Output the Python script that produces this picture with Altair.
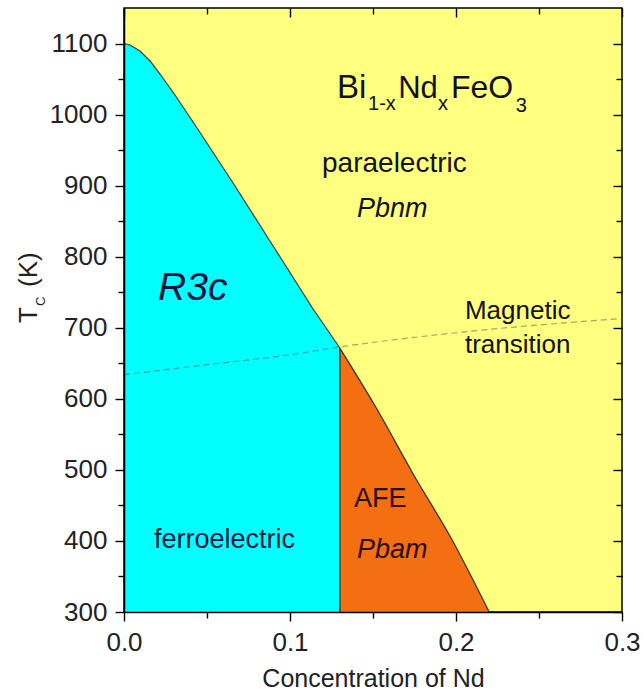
import altair as alt
import pandas as pd

FONT = "Liberation Sans"
CYAN = "#00FFFF"
YELLOW = "#FFFF80"
ORANGE = "#F46E12"
T_MIN = 300

# Boundary of the R3c (ferroelectric) phase
r3c_x = [0.0, 0.0036, 0.0096, 0.0157, 0.0217, 0.0307, 0.044, 0.0657, 0.0898, 0.1139, 0.13]
r3c_T = [1100, 1097.9, 1089.5, 1075.4, 1057.1, 1027.6, 981.1, 903.7, 815.1, 726.4, 671.5]

# Boundary of the AFE (Pbam) phase
afe_x = [0.13, 0.152, 0.174, 0.198, 0.22]
afe_T = [671.5, 587, 495, 400, 300]

# Magnetic transition (dashed)
mag_x = [0.0, 0.05, 0.1, 0.13, 0.2, 0.3]
mag_T = [634, 648, 662, 673, 693, 713]

# Axis ticks
x_major = [0.0, 0.1, 0.2, 0.3]
x_minor = [0.05, 0.15, 0.25]
y_major = [300, 400, 500, 600, 700, 800, 900, 1000, 1100]
y_minor = [350, 450, 550, 650, 750, 850, 950, 1050]

# Annotations (upright)
lab_text = ["paraelectric", "Magnetic", "transition", "ferroelectric", "AFE"]
lab_x = [0.1193, 0.2054, 0.2054, 0.0181, 0.1386]
lab_T = [919.6, 712.3, 664.5, 390.1, 447.8]
lab_size = [28, 26, 26, 27, 27]
lab_color = ["#111111", "#111111", "#111111", "#0d1540", "#2a0d00"]

# Annotations (italic)
ital_text = ["Pbnm", "R3c", "Pbam"]
ital_x = [0.1404, 0.0205, 0.1404]
ital_T = [856.3, 739.1, 376.0]
ital_size = [27, 39, 27]
ital_color = ["#111111", "#0d1540", "#2a0d00"]

# Formula Bi(1-x)Nd(x)FeO(3)
form_text = ["Bi", "1-x", "Nd", "x", "FeO", "3"]
form_x = [0.1283, 0.1470, 0.1652, 0.1892, 0.1970, 0.2360]
form_T = [1022.9, 1006.5, 1022.9, 1006.5, 1022.9, 1004.1]
form_size = [33, 20, 31, 20, 32, 20]

xs = alt.Scale(domain=[0.0, 0.3], nice=False, zero=False)
ys = alt.Scale(domain=[300, 1150], nice=False, zero=False)


def X(axis=None, field="x"):
    return alt.X(f"{field}:Q", scale=xs, axis=axis)


def Y(axis=None, field="T"):
    return alt.Y(f"{field}:Q", scale=ys, axis=axis)


common = dict(grid=False, zindex=2, tickColor="black", tickWidth=1.4)

ax_x_major = alt.Axis(orient="bottom", values=x_major, format=".1f", tickSize=9,
                      domainColor="black", domainWidth=1.5, labelFont=FONT, labelFontSize=26,
                      labelColor="#222222", labelPadding=8, labelFlush=False,
                      title="Concentration of Nd", titleFont=FONT, titleFontSize=25,
                      titleFontWeight="normal", titleColor="#222222", titlePadding=11, **common)
ax_y_major = alt.Axis(orient="left", values=y_major, format="d", tickSize=9,
                      domainColor="black", domainWidth=1.5, labelFont=FONT, labelFontSize=26,
                      labelColor="#222222", labelPadding=8, labelFlush=False, title=None, **common)
ax_x_minor = alt.Axis(orient="bottom", values=x_minor, tickSize=6, labels=False, domain=False,
                      title=None, **common)
ax_y_minor = alt.Axis(orient="left", values=y_minor, tickSize=6, labels=False, domain=False,
                      title=None, **common)
ax_x_top_major = alt.Axis(orient="top", values=x_major, tickSize=9, offset=-9, labels=False,
                          domain=False, title=None, **common)
ax_y_right_major = alt.Axis(orient="right", values=y_major, tickSize=9, offset=-9, labels=False,
                            domain=False, title=None, **common)
ax_x_top_minor = alt.Axis(orient="top", values=x_minor, tickSize=6, offset=-6, labels=False,
                          domain=False, title=None, **common)
ax_y_right_minor = alt.Axis(orient="right", values=y_minor, tickSize=6, offset=-6, labels=False,
                            domain=False, title=None, **common)

cyan_df = pd.DataFrame({"x": r3c_x, "T": r3c_T})
afe_df = pd.DataFrame({"x": afe_x, "T": afe_T})
mag_df = pd.DataFrame({"x": mag_x, "T": mag_T})
rule_df = pd.DataFrame({"x": [r3c_x[-1]], "T": [T_MIN], "T2": [r3c_T[-1]]})
lab_df = pd.DataFrame({"text": lab_text, "x": lab_x, "T": lab_T, "size": lab_size, "color": lab_color})
ital_df = pd.DataFrame({"text": ital_text, "x": ital_x, "T": ital_T, "size": ital_size, "color": ital_color})
form_df = pd.DataFrame({"text": form_text, "x": form_x, "T": form_T, "size": form_size})

cyan_area = alt.Chart(cyan_df).mark_area(color=CYAN, opacity=1).encode(
    x=X(ax_x_major), y=Y(ax_y_major), y2=alt.datum(T_MIN))
cyan_line = alt.Chart(cyan_df).mark_line(color="#3a3a2a", strokeWidth=1.2).encode(x=X(), y=Y())

afe_area = alt.Chart(afe_df).mark_area(color=ORANGE, opacity=1, interpolate="monotone").encode(
    x=X(ax_x_minor), y=Y(ax_y_minor), y2=alt.datum(T_MIN))
afe_line = alt.Chart(afe_df).mark_line(color="#3a2a1a", strokeWidth=1.2,
                                       interpolate="monotone").encode(x=X(), y=Y())

vrule = alt.Chart(rule_df).mark_rule(color="#1a2a2a", strokeWidth=1.4).encode(
    x=X(), y=Y(), y2=alt.Y2("T2:Q"))

mag_line = alt.Chart(mag_df).mark_line(color="#445544", strokeWidth=1.2, opacity=0.5,
                                       strokeDash=[6, 4], interpolate="monotone").encode(
    x=X(ax_x_top_major), y=Y(ax_y_right_major))

carrier = alt.Chart(mag_df).mark_point(opacity=0, size=1).encode(
    x=X(ax_x_top_minor), y=Y(ax_y_right_minor))

lab_layer = alt.Chart(lab_df).mark_text(align="left", baseline="alphabetic", font=FONT).encode(
    x=X(), y=Y(), text="text:N", size=alt.Size("size:Q", scale=None),
    color=alt.Color("color:N", scale=None))
ital_layer = alt.Chart(ital_df).mark_text(align="left", baseline="alphabetic", font=FONT,
                                          fontStyle="italic").encode(
    x=X(), y=Y(), text="text:N", size=alt.Size("size:Q", scale=None),
    color=alt.Color("color:N", scale=None))
form_layer = alt.Chart(form_df).mark_text(align="left", baseline="alphabetic", font=FONT,
                                          color="#111111").encode(
    x=X(), y=Y(), text="text:N", size=alt.Size("size:Q", scale=None))

# y-axis title T_C (K), rotated
ytitle_df = pd.DataFrame({"t": ["T"]})
ysub_df = pd.DataFrame({"t": ["C"]})
yunit_df = pd.DataFrame({"t": ["(K)"]})
yt1 = alt.Chart(ytitle_df).mark_text(align="left", baseline="alphabetic", angle=270, font=FONT,
                                     fontSize=26, color="#222222").encode(
    x=alt.value(-87), y=alt.value(315), text="t:N")
yt2 = alt.Chart(ysub_df).mark_text(align="left", baseline="alphabetic", angle=270, font=FONT,
                                   fontSize=13, color="#222222").encode(
    x=alt.value(-79), y=alt.value(298), text="t:N")
yt3 = alt.Chart(yunit_df).mark_text(align="left", baseline="alphabetic", angle=270, font=FONT,
                                    fontSize=26, color="#222222").encode(
    x=alt.value(-87), y=alt.value(279), text="t:N")

chart = alt.layer(
    cyan_area, afe_area, mag_line, cyan_line, afe_line, vrule, carrier,
    lab_layer, ital_layer, form_layer, yt1, yt2, yt3
).resolve_axis(x="independent", y="independent").properties(
    width=498, height=604,
    autosize=alt.AutoSizeParams(type="none"),
    padding={"left": 124, "top": 8, "right": 22, "bottom": 79},
    background="white",
).configure_view(fill=YELLOW, stroke="black", strokeWidth=1.5)

chart.save("out.html", embed_options={"renderer": "svg", "actions": False})
